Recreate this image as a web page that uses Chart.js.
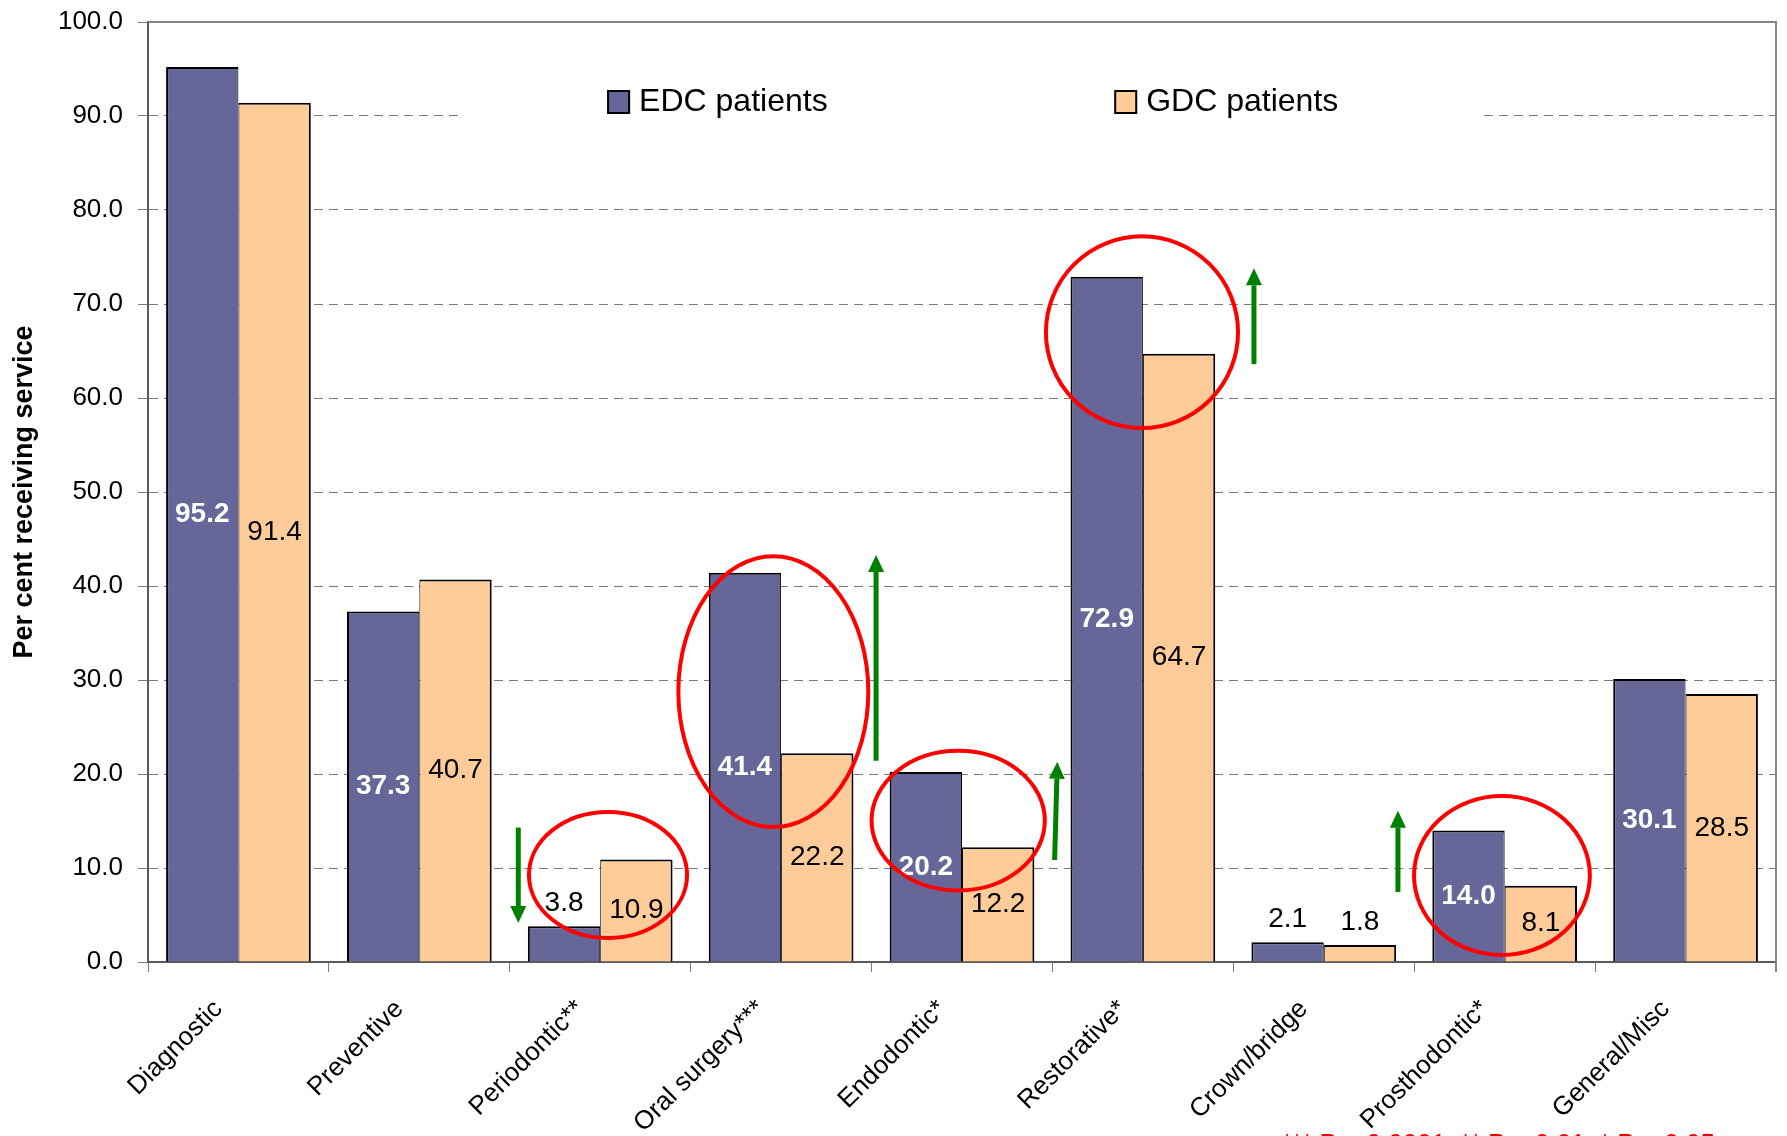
<!DOCTYPE html>
<html>
<head>
<meta charset="utf-8">
<script src="https://cdn.jsdelivr.net/npm/chart.js@4.4.1/dist/chart.umd.min.js"></script>
<style>
  html, body { margin: 0; padding: 0; background: #ffffff; }
  canvas { display: block; }
</style>
</head>
<body>
<canvas id="chart" width="1787" height="1136"></canvas>
<script>
// Service categories along the x axis
const categories = ['Diagnostic', 'Preventive', 'Periodontic**', 'Oral surgery***', 'Endodontic*',
                    'Restorative*', 'Crown/bridge', 'Prosthodontic*', 'General/Misc'];

// Per cent of patients receiving each service
const edcValues = [95.2, 37.3, 3.8, 41.4, 20.2, 72.9, 2.1, 14.0, 30.1];
const gdcValues = [91.4, 40.7, 10.9, 22.2, 12.2, 64.7, 1.8, 8.1, 28.5];
const seriesNames = ['EDC patients', 'GDC patients'];

// Y axis tick values (labelled with one decimal)
const yTickValues = [0, 10, 20, 30, 40, 50, 60, 70, 80, 90, 100];
const yAxisTitle = 'Per cent receiving service';
const significanceNote = '*** P < 0.0001, ** P < 0.01, * P < 0.05';

// Highlight rings: category, centre shift (category widths), centre value, half width (category widths), half height (value units)
const highlightRings = [
  ['Periodontic**',   0.043,  9.26, 0.437,  6.7],
  ['Oral surgery***', -0.043, 28.76, 0.525, 14.4],
  ['Endodontic*',     -0.021, 15.04, 0.479,  7.43],
  ['Restorative*',    -0.005, 67.0,  0.531, 10.2],
  ['Prosthodontic*',  -0.015,  9.2,  0.486,  8.46]
];

// Trend arrows: category, tail shift, tail value, head shift, head value
const trendArrows = [
  ['Periodontic**',   -0.453, 14.3,  -0.453,  4.15],
  ['Oral surgery***',  0.525, 21.4,   0.525, 43.3],
  ['Endodontic*',      0.512, 10.85,  0.527, 21.3],
  ['Restorative*',     0.614, 63.6,   0.614, 73.8],
  ['Prosthodontic*',  -0.59,   7.45, -0.59,  16.1]
];

const FONT = 'Arial, "Liberation Sans", Helvetica, sans-serif';
const EDC_COLOR = '#666699';
const GDC_COLOR = '#FFCC99';
const GRID_GREY = '#7a7a7a';
const AXIS_GREY = '#5a5a5a';

Chart.defaults.font.family = FONT;
Chart.defaults.color = '#000000';

function catX(scale, cat, shift) {
  const idx = categories.indexOf(cat);
  const w = scale.width / categories.length;
  return scale.getPixelForValue(idx) + shift * w;
}

// In-plot legend on a white panel
const insetLegend = {
  id: 'insetLegend',
  beforeDatasetsDraw(chart) {
    const { ctx, chartArea: a } = chart;
    const w = a.right - a.left;
    ctx.save();
    ctx.fillStyle = '#ffffff';
    ctx.fillRect(a.left + 0.193 * w, a.top + 30, 0.627 * w, 100);
    const items = [
      { name: seriesNames[0], color: EDC_COLOR, fx: 0.282 },
      { name: seriesNames[1], color: GDC_COLOR, fx: 0.5935 }
    ];
    ctx.font = '32px ' + FONT;
    ctx.textBaseline = 'middle';
    ctx.textAlign = 'left';
    items.forEach(it => {
      const x = a.left + it.fx * w;
      const y = a.top + 68;
      ctx.fillStyle = it.color;
      ctx.fillRect(x, y, 23, 24);
      ctx.lineWidth = 2;
      ctx.strokeStyle = '#000000';
      ctx.strokeRect(x + 1, y + 1, 21, 22);
      ctx.fillStyle = '#000000';
      ctx.fillText(it.name, x + 32, y + 12);
    });
    ctx.restore();
  }
};

// Value labels: centred in the bar, or just above very short bars
const valueLabels = {
  id: 'valueLabels',
  afterDatasetsDraw(chart) {
    const { ctx } = chart;
    ctx.save();
    ctx.textAlign = 'center';
    ctx.textBaseline = 'middle';
    chart.data.datasets.forEach((ds, di) => {
      const meta = chart.getDatasetMeta(di);
      meta.data.forEach((bar, i) => {
        const v = ds.data[i];
        const txt = v.toFixed(1);
        if (v < 5) {
          ctx.font = '28px ' + FONT;
          ctx.fillStyle = '#000000';
          ctx.fillText(txt, bar.x, bar.y - 23);
        } else {
          const cy = (bar.y + bar.base) / 2;
          if (di === 0) {
            ctx.font = 'bold 28px ' + FONT;
            ctx.fillStyle = '#ffffff';
          } else {
            ctx.font = '28px ' + FONT;
            ctx.fillStyle = '#000000';
          }
          ctx.fillText(txt, bar.x, cy);
        }
      });
    });
    ctx.restore();
  }
};

// Red rings and green arrows marking significant differences, plus the plot frame
const markup = {
  id: 'markup',
  afterDatasetsDraw(chart) {
    const { ctx, chartArea: a } = chart;
    const xs = chart.scales.x, ys = chart.scales.y;
    const cw = xs.width / categories.length;
    const unit = Math.abs(ys.getPixelForValue(0) - ys.getPixelForValue(1));
    ctx.save();
    // frame: top and right edges
    ctx.strokeStyle = '#858585';
    ctx.lineWidth = 2;
    ctx.beginPath();
    ctx.moveTo(a.left, a.top);
    ctx.lineTo(a.right, a.top);
    ctx.lineTo(a.right, a.bottom + 10);
    ctx.stroke();

    ctx.strokeStyle = '#ff0000';
    ctx.lineWidth = 4;
    highlightRings.forEach(([cat, dx, v, rx, ry]) => {
      ctx.beginPath();
      ctx.ellipse(catX(xs, cat, dx), ys.getPixelForValue(v), rx * cw, ry * unit, 0, 0, Math.PI * 2);
      ctx.stroke();
    });

    ctx.strokeStyle = '#008000';
    ctx.fillStyle = '#008000';
    trendArrows.forEach(([cat, tdx, tv, hdx, hv]) => {
      const x0 = catX(xs, cat, tdx), y0 = ys.getPixelForValue(tv);
      const x1 = catX(xs, cat, hdx), y1 = ys.getPixelForValue(hv);
      const ang = Math.atan2(y1 - y0, x1 - x0);
      const headLen = 17, headHalf = 8;
      const bx = x1 - headLen * Math.cos(ang), by = y1 - headLen * Math.sin(ang);
      ctx.lineWidth = 5;
      ctx.beginPath();
      ctx.moveTo(x0, y0);
      ctx.lineTo(bx, by);
      ctx.stroke();
      ctx.beginPath();
      ctx.moveTo(x1, y1);
      ctx.lineTo(bx + headHalf * Math.sin(ang), by - headHalf * Math.cos(ang));
      ctx.lineTo(bx - headHalf * Math.sin(ang), by + headHalf * Math.cos(ang));
      ctx.closePath();
      ctx.fill();
    });
    ctx.restore();
  },
  afterDraw(chart) {
    const { ctx } = chart;
    ctx.save();
    ctx.font = '26px ' + FONT;
    ctx.fillStyle = '#ee0000';
    ctx.textAlign = 'left';
    ctx.textBaseline = 'alphabetic';
    ctx.fillText(significanceNote, 1282, 1152);
    ctx.restore();
  }
};

new Chart(document.getElementById('chart'), {
  type: 'bar',
  data: {
    labels: categories,
    datasets: [
      {
        label: seriesNames[0],
        data: edcValues,
        backgroundColor: EDC_COLOR,
        borderColor: '#000000',
        borderWidth: { top: 2, left: 2, right: 1, bottom: 0 },
        borderSkipped: false,
        categoryPercentage: 0.8,
        barPercentage: 1.0
      },
      {
        label: seriesNames[1],
        data: gdcValues,
        backgroundColor: GDC_COLOR,
        borderColor: '#000000',
        borderWidth: { top: 2, left: 1, right: 2, bottom: 0 },
        borderSkipped: false,
        categoryPercentage: 0.8,
        barPercentage: 1.0
      }
    ]
  },
  options: {
    responsive: false,
    animation: false,
    devicePixelRatio: 1,
    layout: { padding: { top: 22, right: 11, left: 0, bottom: 0 } },
    plugins: {
      legend: { display: false },
      tooltip: { enabled: false },
      title: { display: false }
    },
    scales: {
      x: {
        offset: true,
        grid: {
          offset: true,
          drawOnChartArea: false,
          drawTicks: true,
          tickLength: 10,
          tickColor: GRID_GREY,
          lineWidth: 1
        },
        border: { display: true, color: AXIS_GREY, width: 2 },
        ticks: {
          autoSkip: false,
          minRotation: 45,
          maxRotation: 45,
          padding: 22,
          labelOffset: -20,
          color: '#000000',
          font: { size: 26, family: FONT }
        },
        afterFit(s) { s.height = 174; }
      },
      y: {
        min: 0,
        max: 100,
        afterBuildTicks(s) { s.ticks = yTickValues.map(v => ({ value: v })); },
        grid: {
          color: c => (c.tick && c.tick.value === 0) ? 'rgba(0,0,0,0)' : GRID_GREY,
          lineWidth: 1,
          drawTicks: true,
          tickLength: 10,
          tickColor: GRID_GREY
        },
        border: { display: true, color: AXIS_GREY, width: 2, dash: [9, 6] },
        ticks: {
          padding: 15,
          color: '#000000',
          font: { size: 26, family: FONT },
          callback: v => Number(v).toFixed(1)
        },
        title: {
          display: true,
          text: yAxisTitle,
          color: '#000000',
          font: { size: 27, weight: 'bold', family: FONT },
          padding: { top: 8, bottom: 0 }
        },
        afterFit(s) {
          s.width = 148;
          s.paddingTop = 12;
          s.paddingBottom = 12;
        }
      }
    }
  },
  plugins: [insetLegend, valueLabels, markup]
});
</script>
</body>
</html>
